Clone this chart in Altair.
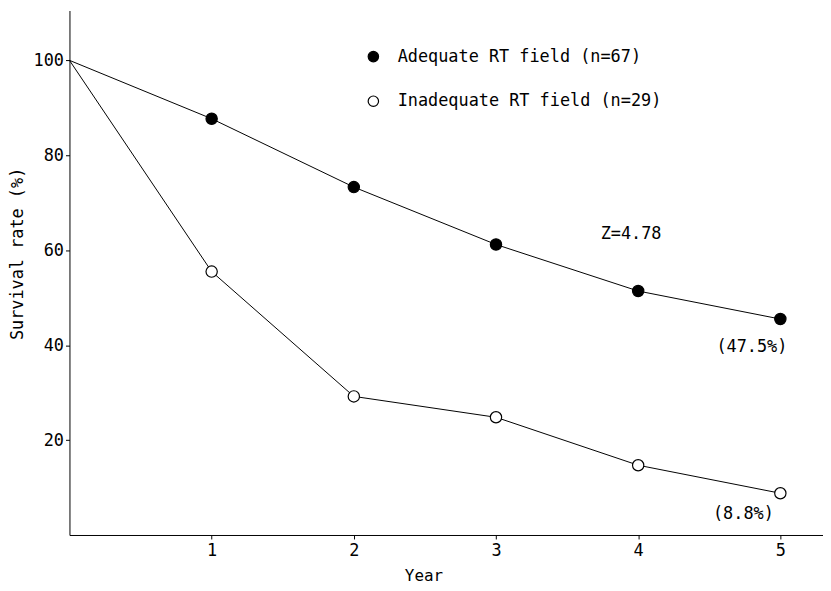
import altair as alt
import pandas as pd

years = [0, 1, 2, 3, 4, 5]
adequate = [100, 87.7, 73.3, 61.2, 51.4, 45.5]
inadequate = [100, 55.5, 29.2, 24.8, 14.7, 8.8]
groups = ["Adequate RT field (n=67)", "Inadequate RT field (n=29)"]

ann_text = ["Z=4.78", "(47.5%)", "(8.8%)"]
ann_x = [3.95, 4.8, 4.74]
ann_y = [63.5, 39.7, 4.4]

FONT = "DejaVu Sans Mono"

rows = []
for g, vals in zip(groups, [adequate, inadequate]):
    for yr, v in zip(years, vals):
        rows.append({"year": yr, "rate": v, "group": g})
df = pd.DataFrame(rows)
ann = pd.DataFrame({"text": ann_text, "x": ann_x, "y": ann_y})

xs = alt.Scale(domain=[0, 5.3], nice=False, zero=False)
ys = alt.Scale(domain=[0, 110.5], nice=False)

xax = alt.Axis(values=[1, 2, 3, 4, 5], format="d", title="Year", grid=False, tickSize=4,
               labelFont=FONT, labelFontSize=17, titleFont=FONT, titleFontSize=16,
               titleFontWeight="normal", labelColor="black", titleColor="black",
               domainColor="black", tickColor="black", titleX=357, titleY=41,
               titleBaseline="middle", labelPadding=4)
yax = alt.Axis(values=[20, 40, 60, 80, 100], title="Survival rate (%)", grid=False,
               tickSize=4, labelFont=FONT, labelFontSize=17, titleFont=FONT,
               titleFontSize=17, titleFontWeight="normal", labelColor="black",
               titleColor="black", domainColor="black", tickColor="black",
               titleX=-52, titleY=245, titleAngle=270, titleBaseline="middle",
               titleAlign="center", labelPadding=2)

base = alt.Chart(df)

lines = base.mark_line(color="black", strokeWidth=1).encode(
    x=alt.X("year:Q", scale=xs, axis=xax),
    y=alt.Y("rate:Q", scale=ys, axis=yax),
    detail="group:N",
)

points = base.transform_filter(alt.datum.year > 0).mark_point(
    shape="circle", size=130, stroke="black", strokeWidth=1.2, filled=False, opacity=1
).encode(
    x=alt.X("year:Q", scale=xs),
    y=alt.Y("rate:Q", scale=ys),
    fill=alt.Fill("group:N", scale=alt.Scale(domain=groups, range=["black", "white"]),
                  legend=alt.Legend(title=None, orient="none", legendX=298, legendY=38,
                                    labelFont=FONT, labelFontSize=17, labelColor="black",
                                    labelLimit=0,
                                    symbolType="circle", symbolSize=110,
                                    symbolStrokeColor="black", symbolStrokeWidth=1.2,
                                    labelOffset=16, rowPadding=27, padding=0,
                                    symbolOpacity=1)),
)

texts = alt.Chart(ann).mark_text(font=FONT, fontSize=17, color="black").encode(
    x=alt.X("x:Q", scale=xs),
    y=alt.Y("y:Q", scale=ys),
    text="text:N",
)

chart = alt.layer(lines, points, texts).properties(
    width=760, height=529,
    background="white",
    autosize=alt.AutoSizeParams(type="none"),
    padding={"left": 62, "top": 0, "right": 0, "bottom": 60},
).configure_view(stroke=None)

chart.save("out.html", embed_options={"renderer": "svg", "actions": False})
